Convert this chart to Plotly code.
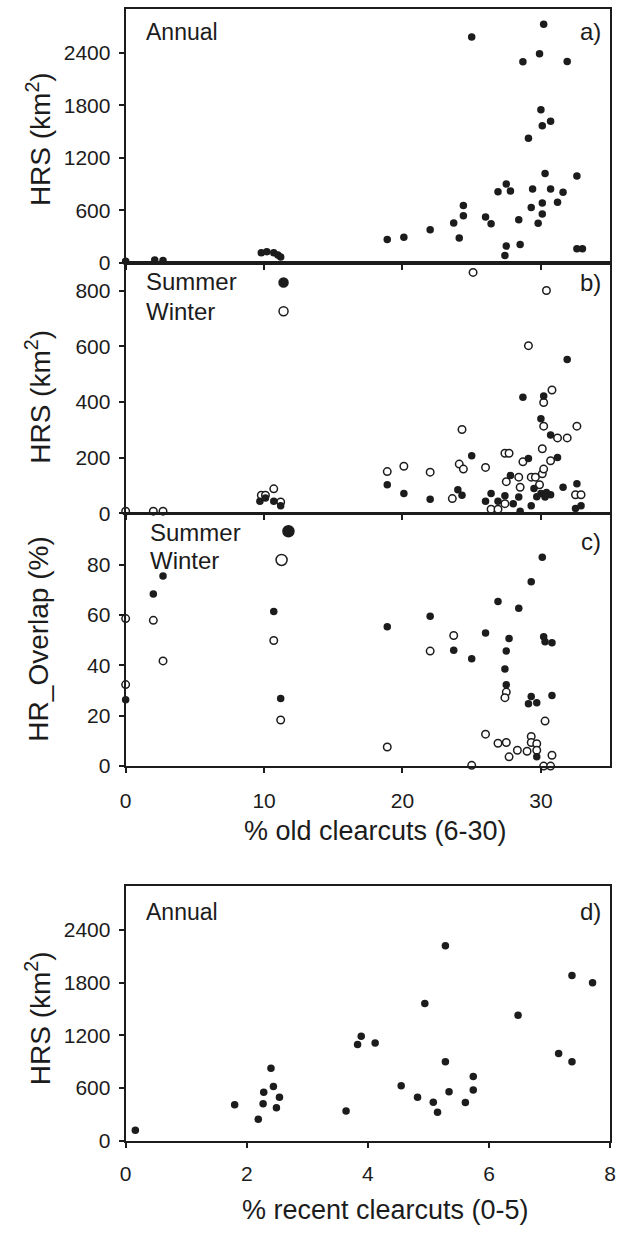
import plotly.graph_objects as go

# ---------------- data ----------------
a_x = [0, 2.1, 2.7, 9.8, 10.2, 10.7, 11.0, 11.2, 18.9, 20.1, 22.0, 23.7, 24.1, 24.4, 24.4,
       25.0, 26.0, 26.4, 26.9, 27.5, 27.8, 27.4, 27.5, 28.4, 28.5, 28.7, 29.1, 29.3, 29.4,
       29.9, 29.8, 30.3, 30.0, 30.1, 30.7, 30.2, 30.1, 30.1, 30.7, 31.2, 31.6, 31.9, 32.6,
       32.6, 33.0]
a_y = [15, 30, 25, 113, 125, 113, 87, 64, 264, 290, 377, 453, 283, 653, 536,
       2578, 521, 445, 811, 898, 819, 83, 189, 491, 208, 2295, 1423, 630, 842,
       2389, 449, 1019, 1747, 1566, 1615, 2725, 683, 555, 842, 691, 804, 2298, 989,
       158, 158]

b_sum_x = [9.7, 10.1, 10.7, 11.2, 18.9, 20.1, 22.0, 24.0, 24.3, 25.0, 26.0, 26.4, 26.9,
           27.4, 27.8, 28.0, 28.4, 28.5, 28.7, 29.1, 29.3, 29.5, 30.0, 30.2, 30.0, 30.3,
           30.7, 30.7, 31.2, 31.6, 31.9, 32.6, 32.5, 32.9, 29.7, 30.4]
b_sum_y = [44, 55, 44, 27, 103, 71, 51, 85, 65, 207, 44, 71, 44,
           63, 136, 35, 59, 8, 417, 197, 27, 89, 340, 421, 71, 59,
           281, 67, 201, 94, 552, 106, 18, 27, 60, 75]

b_win_x = [0, 2.0, 2.7, 9.8, 10.1, 10.7, 11.2, 18.9, 20.1, 22.0, 23.6, 24.1, 24.4, 24.3,
           25.1, 26.0, 26.4, 26.9, 27.4, 27.7, 27.4, 27.5, 28.4, 28.5, 28.7, 29.1, 29.3,
           29.6, 29.9, 30.1, 30.2, 30.1, 30.2, 30.2, 30.4, 30.7, 30.8, 31.2, 31.9, 32.6,
           32.5, 32.9]
b_win_y = [8, 8, 8, 65, 65, 88, 41, 150, 169, 148, 53, 177, 159, 301,
           865, 165, 15, 15, 216, 216, 35, 114, 130, 94, 185, 602, 130,
           130, 103, 142, 159, 232, 313, 398, 800, 189, 443, 271, 271, 313,
           67, 67]

c_sum_x = [0, 2.0, 2.7, 10.7, 11.2, 18.9, 22.0, 23.7, 25.0, 26.0, 26.9, 27.7, 27.5, 27.4,
           27.5, 28.4, 29.3, 30.1, 30.2, 30.3, 30.8, 29.1, 29.3, 29.7, 30.8, 29.7]
c_sum_y = [26.4, 68.4, 75.5, 61.4, 26.9, 55.4, 59.5, 46.0, 42.7, 52.9, 65.4, 50.7, 45.7, 38.6,
           32.3, 62.7, 73.2, 83.0, 51.4, 49.4, 49.0, 24.8, 27.7, 25.2, 28.1, 3.7]

c_win_x = [0, 0, 2.0, 2.7, 10.7, 11.2, 18.9, 22.0, 23.7, 25.0, 26.0, 26.9, 27.5, 27.5,
           27.4, 27.7, 28.3, 29.0, 29.3, 29.3, 29.7, 29.7, 30.3, 30.2, 30.7, 30.8]
c_win_y = [32.4, 58.6, 57.9, 41.8, 49.9, 18.3, 7.6, 45.7, 51.9, 0.3, 12.7, 9.1, 9.4, 29.4,
           27.2, 3.7, 6.3, 5.9, 11.8, 9.4, 8.9, 6.3, 17.9, 0, 0, 4.3]

d_x = [0.16, 1.80, 2.19, 2.27, 2.28, 2.40, 2.44, 2.49, 2.54, 3.64, 3.83, 3.89, 4.12, 4.55,
       4.82, 4.94, 5.08, 5.15, 5.28, 5.28, 5.34, 5.61, 5.74, 5.74, 6.48, 7.15, 7.37, 7.37, 7.71]
d_y = [120, 409, 244, 420, 551, 825, 619, 375, 495, 338, 1095, 1189, 1114, 626,
       495, 1564, 439, 326, 900, 2220, 559, 435, 731, 578, 1429, 994, 1883, 900, 1800]

hrs_ticks = [0, 600, 1200, 1800, 2400]
b_ticks = [0, 200, 400, 600, 800]
c_ticks = [0, 20, 40, 60, 80]
old_ticks = [0, 10, 20, 30]
recent_ticks = [0, 2, 4, 6, 8]

# ---------------- layout helpers ----------------
W, H = 622, 1237
FONT = "Liberation Sans, Arial, sans-serif"
INK = "#1c1c1c"


def px(x):
    return x / W


def py(y):
    return 1 - y / H


LEFT, RIGHT = 122, 616
panels = {  # top, bottom in pixels
    "a": (9, 265),
    "b": (265, 518),
    "c": (519, 773),
    "d": (894, 1151),
}

fig = go.Figure()

filled = dict(color=INK, size=7.5, line=dict(width=0))
hollow = dict(color="white", size=7.5, line=dict(color=INK, width=1.5))


def add(x, y, xa, ya, marker):
    fig.add_trace(go.Scatter(x=x, y=y, mode="markers", marker=marker,
                             xaxis=xa, yaxis=ya, showlegend=False,
                             cliponaxis=False))


add(a_x, a_y, "x", "y", filled)
add(b_win_x, b_win_y, "x2", "y2", hollow)
add(b_sum_x, b_sum_y, "x2", "y2", filled)
add(c_win_x, c_win_y, "x3", "y3", hollow)
add(c_sum_x, c_sum_y, "x3", "y3", filled)
add(d_x, d_y, "x4", "y4", filled)

common = dict(showline=True, mirror=True, linecolor=INK, linewidth=2,
              ticks="outside", ticklen=5, tickwidth=1.5, tickcolor=INK,
              showgrid=False, zeroline=False, ticklabeloverflow="allow",
              tickfont=dict(family=FONT, size=21, color=INK))

xdom = [px(LEFT), px(RIGHT)]


def ydom(k):
    t, b = panels[k]
    return [py(b), py(t)]


fig.update_layout(
    width=W, height=H, margin=dict(l=0, r=0, t=0, b=0),
    paper_bgcolor="white", plot_bgcolor="white",
    xaxis=dict(common, domain=xdom, range=[0, 35], tickvals=old_ticks,
               showticklabels=False, anchor="y"),
    yaxis=dict(common, domain=ydom("a"), range=[0, 2900], tickvals=hrs_ticks,
               anchor="x", ticklabelstandoff=4),
    xaxis2=dict(common, domain=xdom, range=[0, 35], tickvals=old_ticks,
                showticklabels=False, anchor="y2"),
    yaxis2=dict(common, domain=ydom("b"), range=[0, 900], tickvals=b_ticks,
                anchor="x2", ticklabelstandoff=4),
    xaxis3=dict(common, domain=xdom, range=[0, 35], tickvals=old_ticks,
                anchor="y3", ticklabelstandoff=10),
    yaxis3=dict(common, domain=ydom("c"), range=[0, 100], tickvals=c_ticks,
                anchor="x3", ticklabelstandoff=4),
    xaxis4=dict(common, domain=xdom, range=[0, 8], tickvals=recent_ticks,
                anchor="y4", ticklabelstandoff=8),
    yaxis4=dict(common, domain=ydom("d"), range=[0, 2900], tickvals=hrs_ticks,
                anchor="x4", ticklabelstandoff=4),
)

ann = []


def text(x, y, s, size=24, xanchor="left", angle=0):
    ann.append(dict(x=px(x), y=py(y), xref="paper", yref="paper", text=s,
                    showarrow=False, xanchor=xanchor, yanchor="middle",
                    textangle=angle, font=dict(family=FONT, size=size, color=INK)))


# y titles
text(33, 140, "HRS (km<sup>2</sup>)", size=28, xanchor="center", angle=-90)
text(33, 400, "HRS (km<sup>2</sup>)", size=28, xanchor="center", angle=-90)
text(33, 645, "HR_Overlap (%)", size=28, xanchor="center", angle=-90)
text(33, 1027, "HRS (km<sup>2</sup>)", size=28, xanchor="center", angle=-90)
# x titles
text(377, 838, "% old clearcuts (6-30)", size=27, xanchor="center")
text(387, 1221, "% recent clearcuts (0-5)", size=27, xanchor="center")
# panel labels
text(141, 32, "Annual", size=23)
text(609, 32, "a)", xanchor="right")
text(609, 285, "b)", xanchor="right")
text(609, 546, "c)", xanchor="right")
text(141, 920, "Annual", size=23)
text(609, 920, "d)", xanchor="right")
# legends
text(141, 284, "Summer")
text(141, 314, "Winter")
text(145, 537, "Summer")
text(145, 566, "Winter")
fig.update_layout(annotations=ann)

# legend symbols (paper-anchored, pixel-sized)
shapes = []


def sym(x, y, d, fill):
    r = d / 2
    shapes.append(dict(type="circle", xref="paper", yref="paper",
                       xsizemode="pixel", ysizemode="pixel",
                       xanchor=px(x), yanchor=py(y), x0=-r, x1=r, y0=-r, y1=r,
                       fillcolor=INK if fill else "white",
                       line=dict(color=INK, width=1.5)))


sym(283, 285, 9, True)
sym(283, 314, 9, False)
sym(288, 536, 11, True)
sym(281, 565, 11, False)
fig.update_layout(shapes=shapes)

fig.write_html(
    "out.html",
    config={"displayModeBar": False},
    post_script="document.body.style.margin='0';document.body.style.overflow='hidden';",
)
